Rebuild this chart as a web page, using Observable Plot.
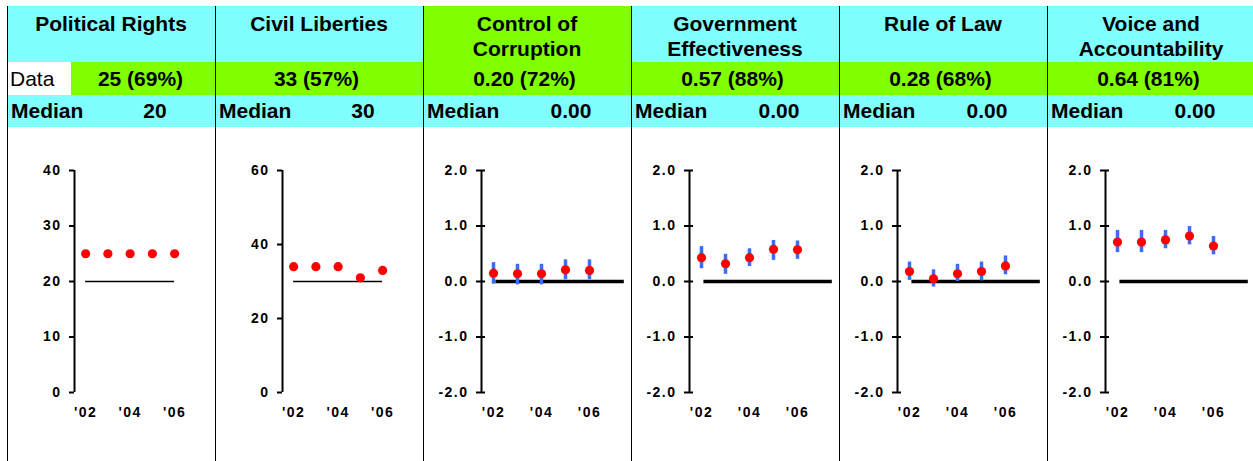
<!DOCTYPE html>
<html><head><meta charset="utf-8">
<script src="https://cdn.jsdelivr.net/npm/d3@7"></script>
<script src="https://cdn.jsdelivr.net/npm/@observablehq/plot@0.6"></script>
<style>
html,body{margin:0;padding:0;background:#fff;width:1253px;height:461px;overflow:hidden;}
body{font-family:"Liberation Sans",Arial,sans-serif;position:relative;color:#000;}
.panel{position:absolute;top:6px;width:208px;}
.title{box-sizing:border-box;height:56px;padding-top:5px;line-height:25px;font-size:21px;font-weight:bold;text-align:center;}
.data{height:33px;line-height:33px;font-size:21px;display:flex;}
.data .lab{width:64px;background:#fff;padding-left:3px;box-sizing:border-box;font-weight:normal;}
.data .val{flex:1;text-align:center;font-weight:bold;background:#80ff00;padding-right:5px;}
.median{height:32px;line-height:32px;font-size:21px;font-weight:bold;background:#80ffff;position:relative;}
.median .lab{position:absolute;left:4px;top:0;}
.median .val{position:absolute;left:148px;top:0;transform:translateX(-50%);}
.vline{position:absolute;top:6px;width:1px;height:455px;background:#000;}
.hline{position:absolute;left:7px;top:6px;height:1px;width:1246px;background:#000;}
</style>
</head><body>
<script>
// ---- data ----
const years = [2002, 2003, 2004, 2005, 2006];
const xTickYears = [2002, 2004, 2006];
const titleLines = [["Political Rights"], ["Civil Liberties"], ["Control of", "Corruption"], ["Government", "Effectiveness"], ["Rule of Law"], ["Voice and", "Accountability"]];
const titleColors = ["#80ffff", "#80ffff", "#80ff00", "#80ffff", "#80ffff", "#80ffff"];
const dataLabels = ["25 (69%)", "33 (57%)", "0.20 (72%)", "0.57 (88%)", "0.28 (68%)", "0.64 (81%)"];
const medianLabels = ["20", "30", "0.00", "0.00", "0.00", "0.00"];

const prValues = [25, 25, 25, 25, 25];
const clValues = [34, 34, 34, 31, 33];
const ccValues = [0.15, 0.14, 0.14, 0.21, 0.20];
const ccLow = [-0.05, -0.06, -0.06, 0.03, 0.03];
const ccHigh = [0.34, 0.31, 0.31, 0.39, 0.39];
const geValues = [0.43, 0.32, 0.43, 0.58, 0.57];
const geLow = [0.23, 0.13, 0.27, 0.38, 0.40];
const geHigh = [0.63, 0.49, 0.59, 0.74, 0.73];
const rlValues = [0.18, 0.05, 0.14, 0.18, 0.28];
const rlLow = [0.02, -0.10, 0.00, 0.01, 0.12];
const rlHigh = [0.35, 0.21, 0.31, 0.35, 0.46];
const vaValues = [0.71, 0.71, 0.75, 0.82, 0.64];
const vaLow = [0.52, 0.52, 0.59, 0.66, 0.48];
const vaHigh = [0.92, 0.92, 0.92, 0.99, 0.81];

const medians = [20, 30, 0, 0, 0, 0];
const yTicksPR = [0, 10, 20, 30, 40];
const yTicksCL = [0, 20, 40, 60];
const yTicksWGI = [-2, -1, 0, 1, 2];
const freedomSpan = [2002, 2006];
const wgiSpan = [2002.1, 2007.45];

const panels = [
  {values: prValues, yDomain: [0, 40], yTicks: yTicksPR, fmt: d => String(d), wgi: false},
  {values: clValues, yDomain: [0, 60], yTicks: yTicksCL, fmt: d => String(d), wgi: false},
  {values: ccValues, low: ccLow, high: ccHigh, yDomain: [-2, 2], yTicks: yTicksWGI, fmt: d => d.toFixed(1), wgi: true},
  {values: geValues, low: geLow, high: geHigh, yDomain: [-2, 2], yTicks: yTicksWGI, fmt: d => d.toFixed(1), wgi: true},
  {values: rlValues, low: rlLow, high: rlHigh, yDomain: [-2, 2], yTicks: yTicksWGI, fmt: d => d.toFixed(1), wgi: true},
  {values: vaValues, low: vaLow, high: vaHigh, yDomain: [-2, 2], yTicks: yTicksWGI, fmt: d => d.toFixed(1), wgi: true}
];

function chart(cfg, median) {
  const rows = years.map((year, i) => ({year, value: cfg.values[i], low: cfg.low ? cfg.low[i] : null, high: cfg.high ? cfg.high[i] : null}));
  const xDomain = cfg.wgi ? [2001.5, 2007.5] : [2001.5, 2006.5];
  const ml = cfg.wgi ? 58 : 67;
  const mr = cfg.wgi ? 6 : 29.75;
  const span = cfg.wgi ? wgiSpan : freedomSpan;
  const marks = [
    Plot.ruleX([xDomain[0]], {y1: cfg.yDomain[0], y2: cfg.yDomain[1], strokeWidth: 2}),
    Plot.ruleY(cfg.yTicks, {x1: xDomain[0], x2: xDomain[0], insetLeft: -5, insetRight: cfg.wgi ? -4 : 0, strokeWidth: 2}),
    Plot.axisY({ticks: cfg.yTicks, tickSize: 0, tickPadding: 13, tickFormat: cfg.fmt, label: null, fontSize: 14, fontWeight: "bold"}),
    Plot.axisX({ticks: xTickYears, tickSize: 0, tickPadding: 15, tickFormat: d => "'" + String(d).slice(2), label: null, fontSize: 14, fontWeight: "bold"}),
    Plot.ruleY([median], {x1: span[0], x2: span[1], strokeWidth: cfg.wgi ? 3.5 : 1.5})
  ];
  if (cfg.wgi) marks.push(Plot.ruleX(rows, {x: "year", y1: "low", y2: "high", stroke: "#3a6cff", strokeWidth: 3.5}));
  marks.push(Plot.dot(rows, {x: "year", y: "value", r: 4.6, fill: "#ff0000"}));
  const svg = Plot.plot({
    width: 208, height: 334,
    marginLeft: ml, marginRight: mr, marginTop: 43, marginBottom: 69,
    x: {domain: xDomain}, y: {domain: cfg.yDomain},
    style: {background: "transparent", color: "#000"},
    marks
  });
  svg.querySelectorAll("text").forEach(t => {
    t.setAttribute("font-size", "14");
    t.setAttribute("font-weight", "bold");
    t.setAttribute("font-family", "Liberation Sans, Arial, sans-serif");
    t.setAttribute("letter-spacing", "1.5");
    t.style.setProperty("font-size", "14px", "important");
    t.style.setProperty("font-weight", "700", "important");
    t.style.setProperty("letter-spacing", "1.5px", "important");
    t.style.setProperty("font-family", "'Liberation Sans', Arial, sans-serif", "important");
  });
  svg.querySelectorAll("g").forEach(g => {
    if (g.getAttribute("font-size")) g.setAttribute("font-size", "14");
  });
  svg.style.fontSize = "14px";
  svg.style.fontWeight = "bold";
  return svg;
}

const hl = document.createElement("div"); hl.className = "hline"; document.body.appendChild(hl);
panels.forEach((cfg, i) => {
  const p = document.createElement("div");
  p.className = "panel";
  p.style.left = (7 + 208 * i) + "px";
  const t = document.createElement("div");
  t.className = "title";
  t.style.background = titleColors[i];
  t.innerHTML = titleLines[i].join("<br>");
  p.appendChild(t);
  const d = document.createElement("div");
  d.className = "data";
  if (i === 0) { const l = document.createElement("div"); l.className = "lab"; l.textContent = "Data"; d.appendChild(l); }
  const v = document.createElement("div"); v.className = "val"; v.textContent = dataLabels[i]; d.appendChild(v);
  p.appendChild(d);
  const m = document.createElement("div");
  m.className = "median";
  m.innerHTML = '<span class="lab">Median</span><span class="val">' + medianLabels[i] + '</span>';
  p.appendChild(m);
  const c = document.createElement("div");
  c.className = "chart";
  c.appendChild(chart(cfg, medians[i]));
  p.appendChild(c);
  document.body.appendChild(p);
});
for (let i = 0; i < 6; i++) {
  const vl = document.createElement("div"); vl.className = "vline"; vl.style.left = (7 + 208 * i) + "px"; document.body.appendChild(vl);
}
</script>
</body></html>
